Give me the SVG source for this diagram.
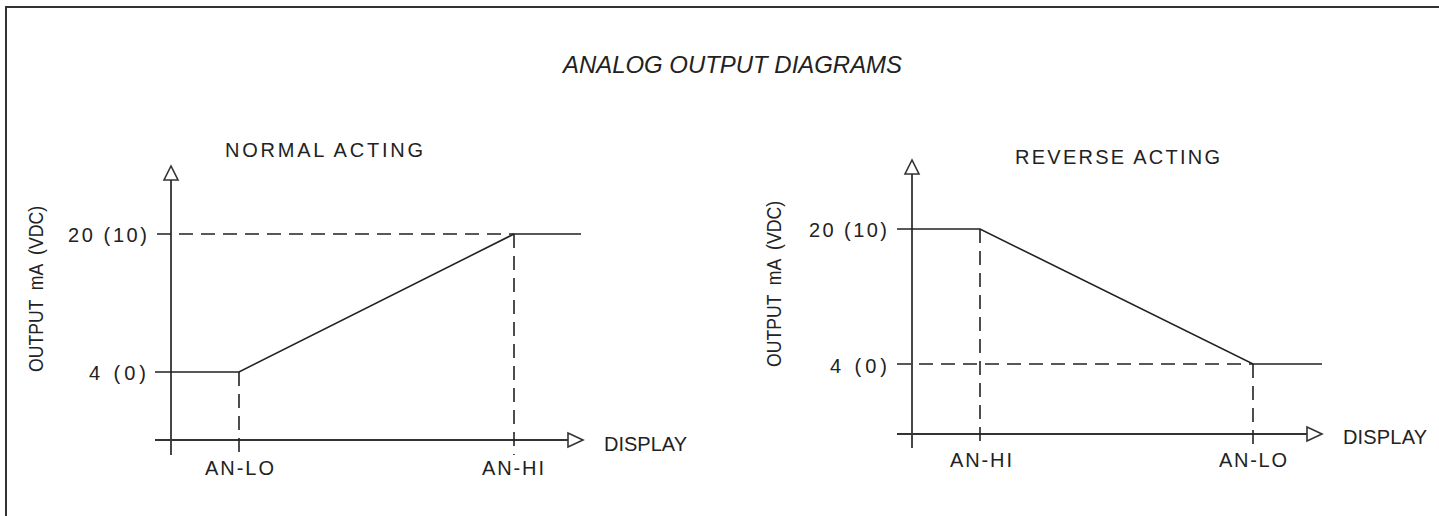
<svg xmlns="http://www.w3.org/2000/svg" width="1439" height="516" viewBox="0 0 1439 516">
<style>
.t{font-family:"Liberation Sans","DejaVu Sans",Arial,sans-serif;font-size:20px;fill:#222}
.title{font-family:"Liberation Sans",Arial,sans-serif;font-size:24px;font-style:italic;fill:#222}
.ax{stroke:#333;stroke-width:1.8;fill:none}
.ln{stroke:#222;stroke-width:1.6;fill:none}
.dash{stroke:#222;stroke-width:1.6;fill:none;stroke-dasharray:14 8}
.ah{stroke:#333;stroke-width:1.6;fill:#fff}
.border{stroke:#333;stroke-width:2;fill:none}
</style>
<rect width="1439" height="516" fill="#fff"/>
<path class="border" d="M6,516 V7 H1439"/>
<text class="title" x="563" y="73" textLength="339" lengthAdjust="spacingAndGlyphs">ANALOG OUTPUT DIAGRAMS</text>

<g id="normal-acting">
  <text class="t" x="225" y="157" textLength="198">NORMAL  ACTING</text>
  <text class="t" transform="translate(43,372) rotate(-90)" x="0" y="0" textLength="166" lengthAdjust="spacingAndGlyphs" xml:space="preserve">OUTPUT  mA  (VDC)</text>
  <text class="t" x="68" y="242" textLength="79">20 (10)</text>
  <text class="t" x="89" y="380" textLength="57">4 (0)</text>
  <g id="normal-axes">
    <path class="ax" d="M171,455 V168"/>
    <path class="ah" d="M171,166 L164,180 H178 Z"/>
    <path class="ax" d="M155,440 H581"/>
    <path class="ah" d="M583,440 L568,433 V447 Z"/>
  </g>
  <g id="normal-curve">
    <path class="ln" d="M155,372 H239 L514,234 H581"/>
    <path class="dash" d="M157,234 H514"/>
    <path class="dash" d="M239,372 V455"/>
    <path class="dash" d="M514,234 V455"/>
  </g>
  <text class="t" x="205" y="475" textLength="69">AN-LO</text>
  <text class="t" x="482" y="475" textLength="62">AN-HI</text>
  <text class="t" x="604" y="451" textLength="83">DISPLAY</text>
</g>

<g id="reverse-acting">
  <text class="t" x="1015" y="164" textLength="205">REVERSE  ACTING</text>
  <text class="t" transform="translate(781,367) rotate(-90)" x="0" y="0" textLength="166" lengthAdjust="spacingAndGlyphs" xml:space="preserve">OUTPUT  mA  (VDC)</text>
  <text class="t" x="809" y="237" textLength="78">20 (10)</text>
  <text class="t" x="830" y="373" textLength="57">4 (0)</text>
  <g id="reverse-axes">
    <path class="ax" d="M912,448 V162"/>
    <path class="ah" d="M912,160 L905,174 H919 Z"/>
    <path class="ax" d="M897,434 H1320"/>
    <path class="ah" d="M1322,434 L1307,427 V441 Z"/>
  </g>
  <g id="reverse-curve">
    <path class="ln" d="M897,229 H980 L1253,364 H1322"/>
    <path class="dash" d="M897,364 H1253"/>
    <path class="dash" d="M980,229 V448"/>
    <path class="dash" d="M1253,364 V448"/>
  </g>
  <text class="t" x="950" y="467" textLength="62">AN-HI</text>
  <text class="t" x="1219" y="467" textLength="68">AN-LO</text>
  <text class="t" x="1343" y="444" textLength="84">DISPLAY</text>
</g>
</svg>
